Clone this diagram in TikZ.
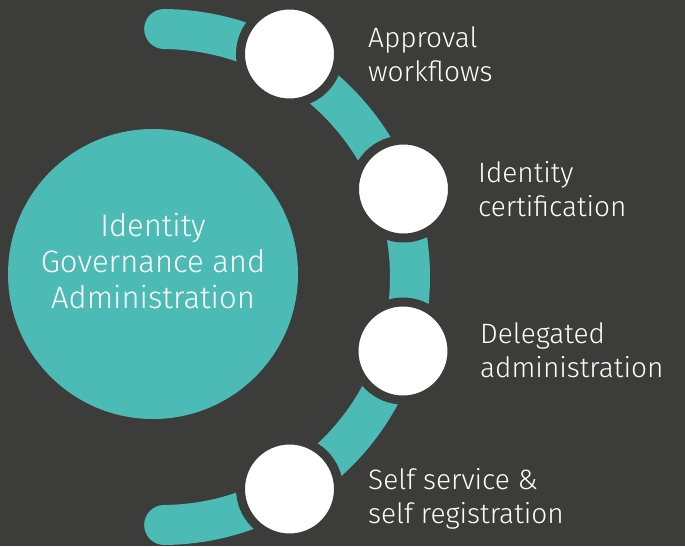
\documentclass[tikz,border=0pt]{standalone}
\usepackage{fontspec}
\setmainfont{Fira Sans}[UprightFont=* Light]
\usepackage{tikz}
\definecolor{bgdark}{HTML}{3C3C3B}
\definecolor{tealband}{HTML}{4CBBB6}

\begin{document}
\begin{tikzpicture}
  [x=1pt, y=-1pt, auto=center,
   lbl/.style={anchor=west, align=left, inner sep=0pt, text=white,
     font=\fontsize{28}{34}\selectfont}]
    \fill[bgdark] (0,0) rectangle (685,546);
    \useasboundingbox (0,0) rectangle (685,546);
    \coordinate (ctr) at (162,277);
    \draw[tealband, line width=40pt, line cap=round]
      (ctr) ++(-89.5:248) arc[start angle=-89.5, end angle=89.5, radius=248];
    \node[circle, fill=tealband, inner sep=0pt, minimum size=290pt]
      (hub) at (153,274) {};
    \node[align=center, text=white, inner sep=0pt,
      font=\fontsize{31}{36}\selectfont]
      (hubtext) at ([yshift=13pt]hub.center)
      {Identity\\Governance and\\Administration};
    \foreach \num/\x/\y in {1/289.5/54,2/403.5/189,3/403/351,4/289.5/489}{
      \node[circle, fill=white, draw=bgdark, line width=9pt,
        inner sep=0pt, minimum size=98pt]
      (c\num) at (\x,\y) {};}
    \node[lbl] (l1) at (368,54) {Approval\\workflows};
    \node[lbl] (l2) at (478,189) {Identity\\certification};
    \node[lbl] (l3) at (480,350) {Delegated\\administration};
    \node[lbl] (l4) at (368,499) {Self service \&\\self registration};
  \end{tikzpicture}
\end{document}
